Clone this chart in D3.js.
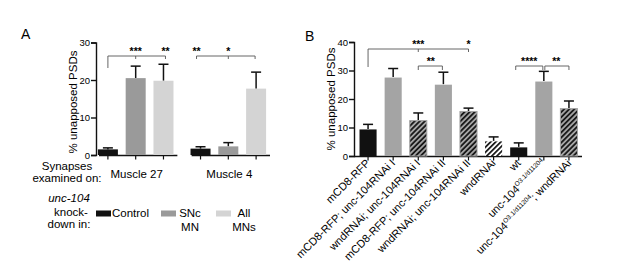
<!DOCTYPE html>
<html>
<head>
<meta charset="utf-8">
<script src="https://cdn.jsdelivr.net/npm/d3@7"></script>
<style>
    body { margin: 0; background: #fff; }
    svg { display: block; font-family: "Liberation Sans", Arial, sans-serif; }
</style>
</head>
<body>
<svg id="chart" width="617" height="271"></svg>
<script>
// panel A data
var aMuscles = ["Muscle 27", "Muscle 4"];
var aKnockdown = ["Control", "SNc MN", "All MNs"];
var aMeanA = [[1.5, 20.5, 19.8], [1.7, 2.3, 17.7]];
var aErrA = [[0.4, 3.2, 4.4], [0.5, 1.0, 4.4]];
var aTicksA = [0, 10, 20, 30];

// panel B data ("^" marks where the allele superscript goes)
var aGenotypes = ["mCD8-RFP", "mCD8-RFP; unc-104RNAi I", "wndRNAi; unc-104RNAi I",
    "mCD8-RFP; unc-104RNAi II", "wndRNAi; unc-104RNAi II", "wndRNAi", "wt",
    "unc-104^", "unc-104^; wndRNAi"];
var aMeanB = [9.5, 27.7, 12.6, 25.2, 15.8, 5.3, 3.2, 26.3, 16.8];
var aErrB = [1.6, 3.0, 2.5, 4.2, 1.0, 1.4, 1.4, 3.4, 2.5];
var aStyleB = ["black", "gray", "hatch", "gray", "hatch", "whitehatch", "black", "gray", "hatch"];
var aTicksB = [0, 10, 20, 30, 40];
var sAllele = "O3.1/d11204";

var svg = d3.select("#chart");
var sStroke = "#111";

// штриховки
var defs = svg.append("defs");
function addHatch(sId, sBg) {
    var p = defs.append("pattern")
        .attr("id", sId)
        .attr("patternUnits", "userSpaceOnUse")
        .attr("width", 3.6).attr("height", 3.6)
        .attr("patternTransform", "rotate(45)");
    p.append("rect").attr("width", 3.6).attr("height", 3.6).attr("fill", sBg);
    p.append("line").attr("x1", 0.9).attr("y1", 0).attr("x2", 0.9).attr("y2", 3.6)
        .attr("stroke", "#111").attr("stroke-width", 1.7);
}
addHatch("hatchGray", "#a4a4a4");
addHatch("hatchWhite", "#fff");

function errBar(g, x, yTop, yErr, w) {
    g.append("line").attr("x1", x).attr("x2", x).attr("y1", yTop).attr("y2", yErr)
        .attr("stroke", sStroke).attr("stroke-width", 1.5);
    g.append("line").attr("x1", x - w / 2).attr("x2", x + w / 2).attr("y1", yErr).attr("y2", yErr)
        .attr("stroke", sStroke).attr("stroke-width", 1.5);
}

function stars(g, x, y, s) {
    g.append("text").attr("x", x).attr("y", y).attr("text-anchor", "middle")
        .attr("font-size", 10.5).attr("font-weight", "bold").text(s);
}

function path(g, pts) {
    g.append("path").attr("d", d3.line()(pts)).attr("fill", "none")
        .attr("stroke", "#555").attr("stroke-width", 0.9);
}

// ---------- panel A ----------
var gA = svg.append("g");
gA.append("text").attr("x", 21).attr("y", 39).attr("font-size", 14).text("A");

var yA = d3.scaleLinear().domain([0, 30]).range([155, 42.5]);
var xOuter = d3.scaleBand().domain(aMuscles).range([94, 270]).paddingInner(0.1);
var xInner = d3.scaleBand().domain(aKnockdown).range([0, xOuter.bandwidth()]).paddingInner(0.28).paddingOuter(0.14);
var aColA = ["#111", "#9a9a9a", "#d4d4d4"];

gA.append("g").attr("transform", "translate(96,0)")
    .call(d3.axisLeft(yA).tickValues(aTicksA).tickSize(5).tickPadding(1))
    .call(g => g.selectAll("text").attr("font-size", 9.5).attr("font-family", null))
    .call(g => g.selectAll("path, line").attr("stroke", sStroke).attr("stroke-width", 1.4));

aMuscles.forEach(function(m, i) {
    var x0 = xOuter(m);
    gA.append("line").attr("x1", x0 + 5).attr("x2", x0 + xOuter.bandwidth())
        .attr("y1", 155.5).attr("y2", 155.5).attr("stroke", sStroke).attr("stroke-width", 1.4);
    aKnockdown.forEach(function(k, j) {
        var cx = x0 + xInner(k) + xInner.bandwidth() / 2;
        gA.append("line").attr("x1", cx).attr("x2", cx).attr("y1", 155.5).attr("y2", 159.5)
            .attr("stroke", sStroke).attr("stroke-width", 1.2);
        errBar(gA, cx, yA(aMeanA[i][j]), yA(aMeanA[i][j] + aErrA[i][j]), 10);
        gA.append("rect").attr("x", x0 + xInner(k)).attr("width", xInner.bandwidth())
            .attr("y", yA(aMeanA[i][j])).attr("height", yA(0) - yA(aMeanA[i][j]))
            .attr("fill", aColA[j]);
    });
    gA.append("text").attr("x", x0 + xOuter.bandwidth() / 2 + 1).attr("y", 178)
        .attr("text-anchor", "middle").attr("font-size", 11.5).text(m);
});

function cA(i, j) { return xOuter(aMuscles[i]) + xInner(aKnockdown[j]) + xInner.bandwidth() / 2; }
// скобки значимости
path(gA, [[cA(0, 0), 68], [cA(0, 0), 56], [cA(0, 2) + 2, 56], [cA(0, 2) + 2, 59]]);
path(gA, [[cA(0, 1), 56], [cA(0, 1), 59]]);
stars(gA, cA(0, 1), 55, "***");
stars(gA, cA(0, 2) + 2, 55, "**");
path(gA, [[cA(1, 0) - 4, 59], [cA(1, 0) - 4, 56], [cA(1, 2) - 1, 56], [cA(1, 2) - 1, 59]]);
path(gA, [[cA(1, 1), 56], [cA(1, 1), 59]]);
stars(gA, cA(1, 0) - 4, 55, "**");
stars(gA, cA(1, 1), 55, "*");

gA.append("text").attr("transform", "translate(77,102) rotate(-90)")
    .attr("text-anchor", "middle").attr("font-size", 11.5).text("% unapposed PSDs");

// подписи слева
var gLab = gA.append("g").attr("font-size", 11.5).attr("text-anchor", "middle");
gLab.append("text").attr("x", 67).attr("y", 170).text("Synapses");
gLab.append("text").attr("x", 67).attr("y", 182).text("examined on:");
gLab.append("text").attr("x", 69).attr("y", 202).attr("font-style", "italic").text("unc-104");
gLab.append("text").attr("x", 71).attr("y", 216).text("knock-");
gLab.append("text").attr("x", 69).attr("y", 228).text("down in:");

// легенда
var aLegX = [96, 161, 216];
aKnockdown.forEach(function(k, j) {
    gA.append("rect").attr("x", aLegX[j]).attr("y", 210.5).attr("width", 15).attr("height", 6)
        .attr("fill", aColA[j]);
});
gLab.append("text").attr("x", 112).attr("y", 217).attr("text-anchor", "start").text("Control");
gLab.append("text").attr("x", 190).attr("y", 217).text("SNc");
gLab.append("text").attr("x", 190).attr("y", 231).text("MN");
gLab.append("text").attr("x", 244).attr("y", 217).text("All");
gLab.append("text").attr("x", 244).attr("y", 231).text("MNs");

// ---------- panel B ----------
var gB = svg.append("g");
gB.append("text").attr("x", 305).attr("y", 41).attr("font-size", 14).text("B");

var yB = d3.scaleLinear().domain([0, 40]).range([156, 42]);
var xB = d3.scaleBand().domain(d3.range(aGenotypes.length)).range([355.5, 581.5]).paddingInner(0.28).paddingOuter(0.14);

gB.append("g").attr("transform", "translate(354,0)")
    .call(d3.axisLeft(yB).tickValues(aTicksB).tickSize(5).tickPadding(1))
    .call(g => g.selectAll("text").attr("font-size", 9.5).attr("font-family", null))
    .call(g => g.selectAll("path, line").attr("stroke", sStroke).attr("stroke-width", 1.4));

gB.append("line").attr("x1", 354).attr("x2", 582).attr("y1", 156.5).attr("y2", 156.5)
    .attr("stroke", sStroke).attr("stroke-width", 1.4);

var mFill = { black: "#111", gray: "#a4a4a4", hatch: "url(#hatchGray)", whitehatch: "url(#hatchWhite)" };
aGenotypes.forEach(function(sName, i) {
    var cx = xB(i) + xB.bandwidth() / 2;
    gB.append("line").attr("x1", cx).attr("x2", cx).attr("y1", 156.5).attr("y2", 160.5)
        .attr("stroke", sStroke).attr("stroke-width", 1.2);
    errBar(gB, cx, yB(aMeanB[i]), yB(aMeanB[i] + aErrB[i]), 10);
    gB.append("rect").attr("x", xB(i) + 0.5).attr("width", xB.bandwidth() - 1)
        .attr("y", yB(aMeanB[i]) + 0.5).attr("height", yB(0) - yB(aMeanB[i]) - 0.5)
        .attr("fill", mFill[aStyleB[i]])
        .attr("stroke", aStyleB[i] === "hatch" ? "#a4a4a4" : "none").attr("stroke-width", 1);

    // подписи оси x
    var t = gB.append("text").attr("transform", `translate(${cx},${161}) rotate(-45)`)
        .attr("text-anchor", "end").attr("font-size", 11).attr("dy", "0.35em");
    var aParts = sName.split("^");
    t.append("tspan").text(aParts[0]);
    if (aParts.length > 1) {
        t.append("tspan").attr("font-size", 6.5).attr("dy", "-0.7em").text(sAllele);
        if (aParts[1]) t.append("tspan").attr("dy", "0.45em").text(aParts[1]);
    }
});

function cB(i) { return xB(i) + xB.bandwidth() / 2; }
path(gB, [[cB(0), 67], [cB(0), 49], [cB(4), 49], [cB(4), 52]]);
path(gB, [[cB(2), 49], [cB(2), 52]]);
stars(gB, cB(2), 48, "***");
stars(gB, cB(4), 48, "*");
path(gB, [[cB(2), 70], [cB(2), 66], [cB(3) - 1, 66], [cB(3) - 1, 70]]);
stars(gB, (cB(2) + cB(3)) / 2, 65, "**");
path(gB, [[cB(6) - 3, 70], [cB(6) - 3, 66], [cB(7) - 1, 66], [cB(7) - 1, 70]]);
path(gB, [[cB(7) + 1, 70], [cB(7) + 1, 66], [cB(8), 66], [cB(8), 70]]);
stars(gB, (cB(6) + cB(7)) / 2 - 2, 65, "****");
stars(gB, (cB(7) + cB(8)) / 2, 65, "**");

gB.append("text").attr("transform", "translate(335,99) rotate(-90)")
    .attr("text-anchor", "middle").attr("font-size", 11.5).text("% unapposed PSDs");
</script>
</body>
</html>
